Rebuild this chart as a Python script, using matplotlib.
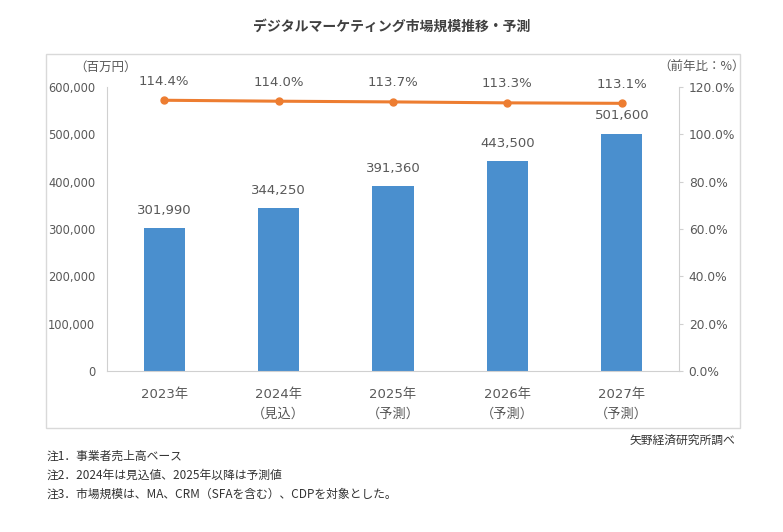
import matplotlib
matplotlib.use("Agg")
import matplotlib.pyplot as plt
from matplotlib.patches import Rectangle
from matplotlib.ticker import FuncFormatter, MultipleLocator

plt.rcParams['font.family'] = ['DejaVu Sans', 'Noto Sans CJK JP']

years = ["2023年", "2024年", "2025年", "2026年", "2027年"]
subs = ["", "（見込）", "（予測）", "（予測）", "（予測）"]
market_size = [301990, 344250, 391360, 443500, 501600]
yoy = [114.4, 114.0, 113.7, 113.3, 113.1]
yoy_labels = ["114.4%", "114.0%", "113.7%", "113.3%", "113.1%"]

TXT = "#595959"
BAR = "#4a8fce"
LINE = "#ed7d31"
AXC = "#d0d0d0"

fig = plt.figure(figsize=(7.83, 5.32), dpi=100)
W, H = 783, 532

def fx(px):
    return px / W

def fy(py):
    return 1 - py / H

# outer frame
fig.patches.append(Rectangle((fx(46), fy(428)), fx(740) - fx(46), fy(54) - fy(428),
                             transform=fig.transFigure, fill=False, edgecolor="#d9d9d9", lw=1.0))

ax = fig.add_axes([fx(107), fy(371), fx(679) - fx(107), fy(87) - fy(371)])
x = list(range(len(years)))
bars = ax.bar(x, market_size, width=0.36, color=BAR, zorder=2)
ax.set_xlim(-0.5, len(years) - 0.5)
ax.set_ylim(0, 600000)
ax.yaxis.set_major_locator(MultipleLocator(100000))
ax.yaxis.set_major_formatter(FuncFormatter(lambda v, p: f"{int(v):,}"))
ax.tick_params(axis='y', length=0, pad=8.5, labelsize=8.3, labelcolor=TXT)
ax.set_xticks(x)
ax.set_xticklabels([y + ("\n" + s if s else "") for y, s in zip(years, subs)],
                   fontsize=9.5, color=TXT, linespacing=1.7)
ax.tick_params(axis='x', length=0, pad=12)
for s in ["top", "right"]:
    ax.spines[s].set_visible(False)
ax.spines["left"].set_color(AXC)
ax.spines["bottom"].set_color(AXC)
for lab in ax.get_xticklabels():
    lab.set_verticalalignment('top')

for rect, v in zip(bars, market_size):
    ax.annotate(f"{v:,}", (rect.get_x() + rect.get_width() / 2, v), xytext=(0, 8),
                textcoords="offset points", ha="center", va="bottom", fontsize=9.5, color=TXT)

ax2 = ax.twinx()
ax2.set_ylim(0, 120)
ax2.yaxis.set_major_locator(MultipleLocator(20))
ax2.yaxis.set_major_formatter(FuncFormatter(lambda v, p: f"{v:.1f}%"))
ax2.tick_params(axis='y', length=3, color=AXC, pad=4, labelsize=8.8, labelcolor=TXT)
for s in ["top", "left", "bottom"]:
    ax2.spines[s].set_visible(False)
ax2.spines["right"].set_color(AXC)
ax2.plot(x, yoy, color=LINE, lw=2.2, marker="o", markersize=5, zorder=3)
for xi, v, lab in zip(x, yoy, yoy_labels):
    ax2.annotate(lab, (xi, v), xytext=(0, 9), textcoords="offset points",
                 ha="center", va="bottom", fontsize=9.5, color=TXT)

fig.text(0.5, fy(27), "デジタルマーケティング市場規模推移・予測", ha="center", va="center",
         fontsize=10, fontweight="bold", color="#404040", family=['Noto Sans CJK JP', 'DejaVu Sans'])
fig.text(fx(106), fy(67), "（百万円）", ha="center", va="center", fontsize=9, color=TXT,
         family=['Noto Sans CJK JP', 'DejaVu Sans'])
fig.text(fx(702), fy(67), "（前年比：%）", ha="center", va="center", fontsize=9, color=TXT,
         family=['Noto Sans CJK JP', 'DejaVu Sans'])
fig.text(fx(735), fy(440), "矢野経済研究所調べ", ha="right", va="center", fontsize=8.5, color="#333333",
         family=['Noto Sans CJK JP', 'DejaVu Sans'])
notes = ["注1．事業者売上高ベース",
         "注2．2024年は見込値、2025年以降は予測値",
         "注3．市場規模は、MA、CRM（SFAを含む）、CDPを対象とした。"]
for i, n in enumerate(notes):
    fig.text(fx(47), fy(456 + 19 * i), n, ha="left", va="center", fontsize=8.5, color="#333333",
             family=['Noto Sans CJK JP', 'DejaVu Sans'])

fig.savefig("out.png", dpi=100)
